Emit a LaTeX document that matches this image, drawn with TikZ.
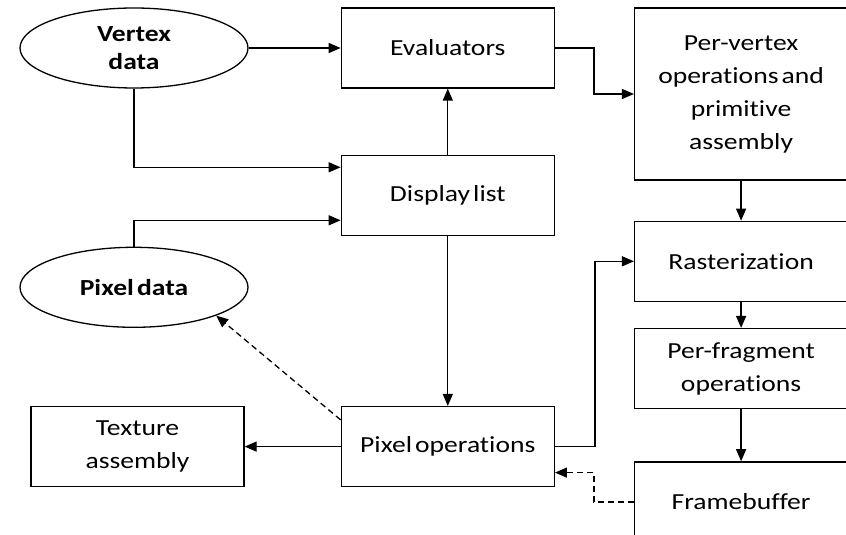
\documentclass[tikz,border=0pt]{standalone}
\usepackage{fontspec}
\setmainfont[FakeStretch=1.2,WordSpace=0.5,Ligatures=NoCommon]{Carlito}
\usetikzlibrary{shapes.geometric, arrows.meta, positioning}

\begin{document}
\begin{tikzpicture}[
  x=1pt, y=1pt,
  box/.style={draw, line width=1.3pt, minimum width=213pt, minimum height=80pt,
              inner sep=0pt, align=center, font=\fontsize{23}{33}\selectfont},
  data/.style={draw, ellipse, line width=1.3pt, minimum width=228pt, minimum height=80pt,
               inner sep=0pt, align=center, font=\bfseries\fontsize{23}{28}\selectfont},
  arr/.style={-{Triangle[length=12pt, width=10pt]}, line width=1.3pt},
  back/.style={arr, dash pattern=on 6pt off 4pt},
  node distance=66pt,
]
  \useasboundingbox (0,0) rectangle (846,535);

  \node[data] (vdata) at (134,487) {Vertex\\data};
  \node[box, right=92pt of vdata] (eval) {Evaluators};
  \node[box, below=of eval] (disp) {Display list};
  \node[box, below=170pt of disp] (pixop) {Pixel operations};
  \node[box, left=96pt of pixop] (texasm) {Texture\\assembly};
  \node[data, below=158pt of vdata] (pdata) {Pixel data};
  \node[box, minimum height=172pt, right=79pt of eval.north east, anchor=north west] (pervert)
    {Per-vertex\\operations and\\primitive\\assembly};
  \node[box, below=40pt of pervert] (raster) {Rasterization};
  \node[box, below=26pt of raster] (perfrag) {Per-fragment\\operations};
  \node[box, below=52pt of perfrag] (fbuf) {Framebuffer};

  \draw[arr] (vdata) -- (eval);
  \draw[arr] (vdata.south) |- ([yshift=28pt]disp.west);
  \draw[arr] (pdata.north) |- ([yshift=-25pt]disp.west);
  \draw[arr] (disp) -- (eval);
  \draw[arr] (eval.east) -- ++(39,0) |- (pervert.west);
  \draw[arr] (disp) -- (pixop);
  \draw[arr] (pixop) -- (texasm);
  \draw[arr] (pixop.east) -- ++(40,0) |- (raster.west);
  \draw[arr] (pervert) -- (raster);
  \draw[arr] (raster) -- (perfrag);
  \draw[arr] (perfrag) -- (fbuf);
  \draw[back] (fbuf.west) -- ++(-40,0) |- ([yshift=-26pt]pixop.east);
  \draw[back] (pixop.166) -- (pdata.-19);
\end{tikzpicture}
\end{document}
